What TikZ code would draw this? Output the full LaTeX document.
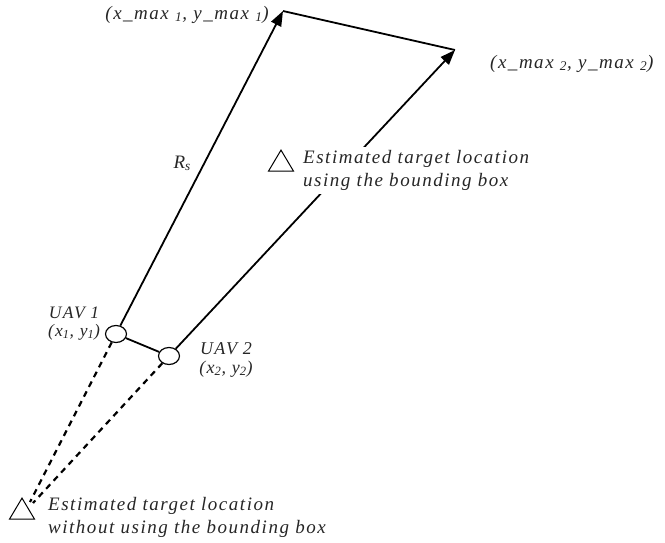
\documentclass[tikz,border=0pt]{standalone}
\usepackage{fontspec}
\setmainfont{Liberation Serif}[LetterSpace=8]
\usetikzlibrary{arrows.meta,shapes.geometric}
\begin{document}
\begin{tikzpicture}[x=1pt,y=-1pt,
  lbl/.style={font=\itshape\fontsize{19}{23.5}\selectfont, inner sep=0pt, text=black!85},
  uav/.style={draw, ellipse, minimum width=21pt, minimum height=17pt, inner sep=0pt, line width=1.2pt},
  tri/.style={draw, isosceles triangle, isosceles triangle apex angle=64, isosceles triangle stretches, shape border rotate=90, minimum width=25pt, minimum height=21pt, inner sep=0pt, line width=1pt},
  conn/.style={line width=1.8pt},
  arr/.style={conn, -{Triangle[length=15pt,width=11pt]}},
  dsh/.style={line width=2.2pt, dash pattern=on 6pt off 5pt}]
\useasboundingbox (0,0) rectangle (665,542);
\coordinate (p1) at (283,11);
\coordinate (p2) at (455,50);
\node[uav] (u1) at (116,334) {};
\node[uav] (u2) at (169,356) {};
\node[tri] (t1) at (281,164) {};
\node[tri] (t2) at (22,512) {};
\coordinate (e1) at (30,502);
\coordinate (e2) at (33,503);
\draw[arr] (u1) -- (p1);
\draw[arr] (u2) -- (p2);
\draw[conn] (p1) -- (p2);
\draw[conn] (u1) -- (u2);
\draw[dsh] (u1) -- (e1);
\draw[dsh] (u2) -- (e2);
\node[lbl, fill=white, align=left, anchor=north west, inner sep=3pt] (l1) at (300,147) {Estimated target location\\using the bounding box};
\node[lbl, align=left, anchor=north west] (l2) at (48,497) {Estimated target location\\without using the bounding box};
\node[lbl, anchor=base east] (rs) at (191,168) {R\textsubscript{s}};
\node[lbl, font=\itshape\fontsize{17.5}{17.5}\selectfont, align=center, anchor=north] (n1) at (74,307) {UAV 1\\(x\textsubscript{1}, y\textsubscript{1})};
\node[lbl, font=\itshape\fontsize{18}{19}\selectfont, align=center, anchor=north] (n2) at (226,342) {UAV 2\\(x\textsubscript{2}, y\textsubscript{2})};
\node[lbl, anchor=base east] (m1) at (269,19) {(x\_max \textsubscript{1}, y\_max \textsubscript{1})};
\node[lbl, anchor=base west] (m2) at (490,68) {(x\_max \textsubscript{2}, y\_max \textsubscript{2})};
\end{tikzpicture}
\end{document}
